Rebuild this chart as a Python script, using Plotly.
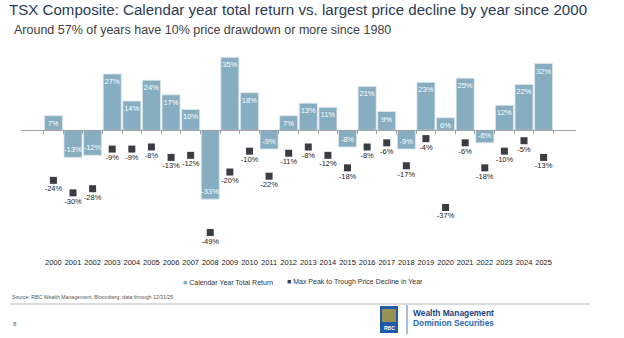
import plotly.graph_objects as go

years = [str(y) for y in range(2000, 2026)]
total_return = [7, -13, -12, 27, 14, 24, 17, 10, -33, 35, 18, -9, 7, 13, 11, -8, 21, 9, -9, 23, 6, 25, -6, 12, 22, 32]
max_decline = [-24, -30, -28, -9, -9, -8, -13, -12, -49, -20, -10, -22, -11, -8, -12, -18, -8, -6, -17, -4, -37, -6, -18, -10, -5, -13]

W, H = 624, 338
BAR_COLOR = "#86adc0"
MARK_COLOR = "#3a3d42"
FONT = "Liberation Sans, Arial, sans-serif"

# plot area in pixels
x0_px, x1_px = 21.3, 575.7
top_px, bot_px = 45, 256
zero_px = 130.3
px_per = 2.086
y_top = (zero_px - top_px) / px_per
y_bot = (zero_px - bot_px) / px_per

fig = go.Figure()
fig.add_trace(go.Bar(
    x=years, y=total_return, name="Calendar Year Total Return",
    marker=dict(color=BAR_COLOR, line=dict(color="#dfe9ee", width=0.8)),
    text=[f"{v}%" for v in total_return], textposition="inside",
    insidetextanchor="end", textangle=0, constraintext="none",
    textfont=dict(color="white", size=7.5, family=FONT),
    showlegend=False, xaxis="x", yaxis="y",
))
fig.add_trace(go.Scatter(
    x=years, y=max_decline, name="Max Peak to Trough Price Decline in Year",
    mode="markers+text",
    marker=dict(symbol="square", size=7, color=MARK_COLOR),
    text=[f"{v}%" for v in max_decline], textposition="bottom center",
    textfont=dict(color="#222222", size=7.5, family=FONT),
    showlegend=False, xaxis="x2", yaxis="y", cliponaxis=False,
))

dom = [x0_px / W, x1_px / W]
fig.update_layout(
    width=W, height=H, margin=dict(l=0, r=0, t=0, b=0),
    paper_bgcolor="white", plot_bgcolor="white",
    bargap=0.08,
    font=dict(family=FONT, color="#333333"),
    title=dict(
        text="TSX Composite: Calendar year total return vs. largest price decline by year since 2000",
        x=9 / W, xanchor="left", xref="container",
        y=1 - 10 / H, yanchor="middle", yref="container",
        font=dict(size=15.1, color="#2b3a55", family=FONT),
    ),
    xaxis=dict(
        domain=dom, type="category", showline=False, showgrid=False,
        zeroline=False, ticks="", tickfont=dict(size=7.5, color="#222222", family=FONT),
        anchor="y",
    ),
    xaxis2=dict(
        domain=dom, type="category", matches="x", overlaying="x",
        anchor="free", position=1 - zero_px / H,
        showline=True, linecolor="#a0a0a0", linewidth=1,
        ticks="outside", tickson="boundaries", ticklen=3, tickcolor="#a0a0a0",
        showticklabels=False, showgrid=False, zeroline=False,
    ),
    yaxis=dict(
        domain=[1 - bot_px / H, 1 - top_px / H], range=[y_bot, y_top],
        visible=False, showgrid=False, zeroline=False,
    ),
)

anns = [
    dict(text="Around 57% of years have 10% price drawdown or more since 1980",
         x=12 / W, y=1 - 30 / H, font=dict(size=12.5, color="#404040")),
    dict(text=f"<span style='color:{BAR_COLOR}'>■</span> Calendar Year Total Return",
         x=181 / W, y=1 - 282 / H, font=dict(size=7, color="#333333")),
    dict(text=f"<span style='color:{MARK_COLOR}'>■</span> Max Peak to Trough Price Decline in Year",
         x=285 / W, y=1 - 282 / H, font=dict(size=7, color="#333333")),
    dict(text="Source: RBC Wealth Management, Bloomberg; data through 12/31/25",
         x=10 / W, y=1 - 297 / H, font=dict(size=5.2, color="#555555")),
    dict(text="8", x=11 / W, y=1 - 324 / H, font=dict(size=6, color="#555555")),
    dict(text="<b>Wealth Management</b>", x=411 / W, y=1 - 313 / H,
         font=dict(size=8.4, color="#1b3f7a")),
    dict(text="<b>Dominion Securities</b>", x=411 / W, y=1 - 323 / H,
         font=dict(size=8.4, color="#2a6bb3")),
    dict(text="<b>RBC</b>", x=389 / W, y=1 - 328 / H, xanchor="center",
         font=dict(size=5, color="white")),
]
for a in anns:
    a.setdefault("xanchor", "left")
    fig.add_annotation(xref="paper", yref="paper", yanchor="middle",
                       showarrow=False, **a)

shapes = [
    dict(type="line", xref="paper", yref="paper", x0=10 / W, x1=590 / W,
         y0=1 - 304 / H, y1=1 - 304 / H, line=dict(color="#b8b8b8", width=1)),
    dict(type="rect", xref="paper", yref="paper", x0=380 / W, x1=398 / W,
         y0=1 - 333 / H, y1=1 - 306 / H, fillcolor="#1f5ba8", line=dict(width=0)),
    dict(type="rect", xref="paper", yref="paper", x0=382 / W, x1=396 / W,
         y0=1 - 322 / H, y1=1 - 309 / H, fillcolor="#c9a832", line=dict(width=0),
         opacity=0.7),
    dict(type="line", xref="paper", yref="paper", x0=407 / W, x1=407 / W,
         y0=1 - 334 / H, y1=1 - 305 / H, line=dict(color="#4a7cc0", width=1)),
]
for s in shapes:
    fig.add_shape(**s)

fig.write_html("out.html")
